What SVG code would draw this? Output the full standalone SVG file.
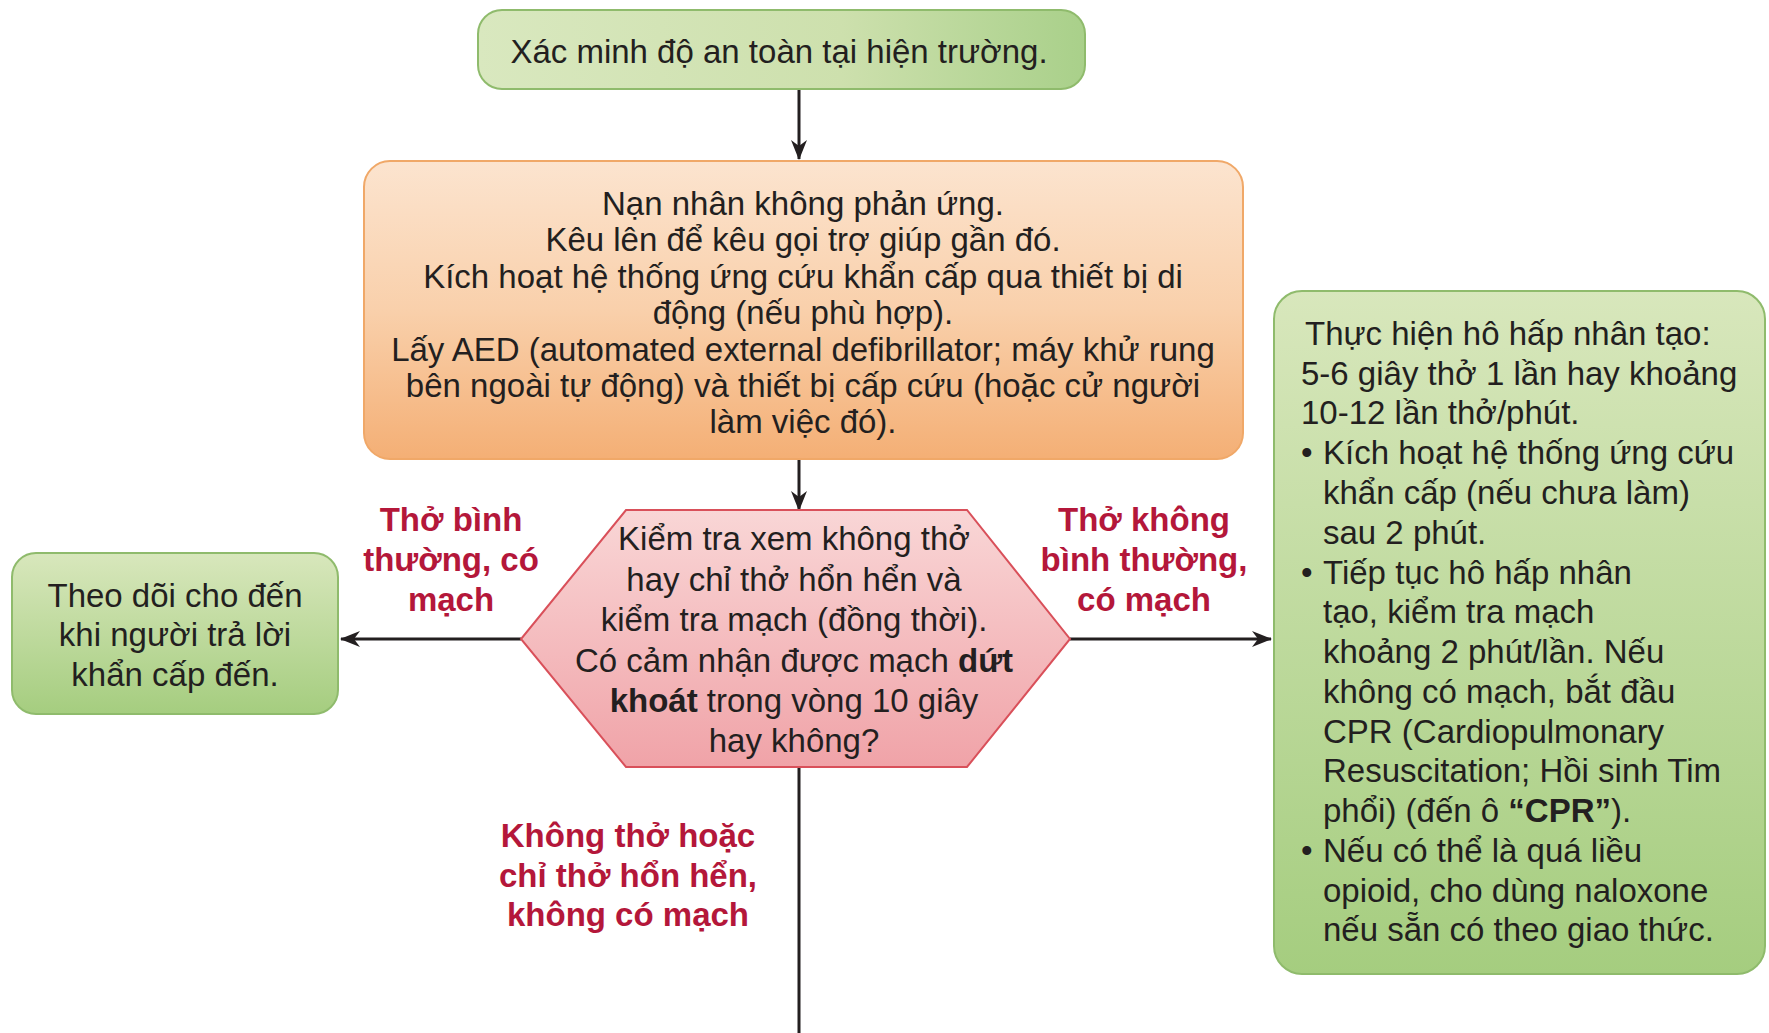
<svg xmlns="http://www.w3.org/2000/svg" width="1769" height="1033" viewBox="0 0 1769 1033">
<style>
.t{font-family:"Liberation Sans",Arial,sans-serif;font-size:33px;fill:#231f20}
.c{text-anchor:middle}
.r{font-family:"Liberation Sans",Arial,sans-serif;font-size:33px;font-weight:bold;fill:#b4173a;text-anchor:middle}
.b{font-weight:bold}
.ln{stroke:#231f20;stroke-width:3;fill:none}
</style>
<defs>
<linearGradient id="gTop" x1="0" y1="0" x2="1" y2="0"><stop offset="0" stop-color="#d9e8bf"/><stop offset="0.6" stop-color="#cde0ad"/><stop offset="1" stop-color="#a9d08a"/></linearGradient>
<linearGradient id="gGreen" x1="0" y1="0" x2="0" y2="1"><stop offset="0" stop-color="#d8e7bc"/><stop offset="1" stop-color="#a5cd7f"/></linearGradient>
<linearGradient id="gOrange" x1="0" y1="0" x2="0" y2="1"><stop offset="0" stop-color="#fce4cf"/><stop offset="0.5" stop-color="#f9d0ab"/><stop offset="1" stop-color="#f4af75"/></linearGradient>
<linearGradient id="gPink" x1="0" y1="0" x2="0" y2="1"><stop offset="0" stop-color="#f9d6d6"/><stop offset="1" stop-color="#f0a3a8"/></linearGradient>
<marker id="arr" viewBox="0 0 20 16" refX="19" refY="8" markerWidth="22" markerHeight="16" orient="auto" markerUnits="userSpaceOnUse"><path d="M0,0 L20,8 L0,16 L6,8 Z" fill="#231f20"/></marker>
</defs>

<g id="connectors">
<line class="ln" x1="799" y1="89" x2="799" y2="159" marker-end="url(#arr)"/>
<line class="ln" x1="799" y1="459" x2="799" y2="510" marker-end="url(#arr)"/>
<line class="ln" x1="521" y1="639" x2="341" y2="639" marker-end="url(#arr)"/>
<line class="ln" x1="1070" y1="639" x2="1271" y2="639" marker-end="url(#arr)"/>
<line class="ln" x1="799" y1="767" x2="799" y2="1033"/>
</g>

<g id="node-safety">
<rect x="478" y="10" width="607" height="79" rx="24" fill="url(#gTop)" stroke="#8fbb6c" stroke-width="2"/>
<text class="t c" x="779" y="63">Xác minh độ an toàn tại hiện trường.</text>
</g>

<g id="node-unresponsive">
<rect x="364" y="161" width="879" height="298" rx="26" fill="url(#gOrange)" stroke="#f0a868" stroke-width="2"/>
<text class="t c" x="803" y="215">Nạn nhân không phản ứng.</text>
<text class="t c" x="803" y="251">Kêu lên để kêu gọi trợ giúp gần đó.</text>
<text class="t c" x="803" y="288">Kích hoạt hệ thống ứng cứu khẩn cấp qua thiết bị di</text>
<text class="t c" x="803" y="324">động (nếu phù hợp).</text>
<text class="t c" x="803" y="361">Lấy AED (automated external defibrillator; máy khử rung</text>
<text class="t c" x="803" y="397">bên ngoài tự động) và thiết bị cấp cứu (hoặc cử người</text>
<text class="t c" x="803" y="433">làm việc đó).</text>
</g>

<g id="node-check">
<polygon points="626,510 967,510 1070,639 967,767 626,767 521,639" fill="url(#gPink)" stroke="#d9505a" stroke-width="2"/>
<text class="t c" x="794" y="550">Kiểm tra xem không thở</text>
<text class="t c" x="794" y="591">hay chỉ thở hổn hển và</text>
<text class="t c" x="794" y="631">kiểm tra mạch (đồng thời).</text>
<text class="t c" x="794" y="672">Có cảm nhận được mạch <tspan class="b">dứt</tspan></text>
<text class="t c" x="794" y="712"><tspan class="b">khoát</tspan> trong vòng 10 giây</text>
<text class="t c" x="794" y="752">hay không?</text>
</g>

<g id="node-monitor">
<rect x="12" y="553" width="326" height="161" rx="24" fill="url(#gGreen)" stroke="#8fbb6c" stroke-width="2"/>
<text class="t c" x="175" y="607">Theo dõi cho đến</text>
<text class="t c" x="175" y="646">khi người trả lời</text>
<text class="t c" x="175" y="686">khẩn cấp đến.</text>
</g>

<g id="node-rescue-breathing">
<rect x="1274" y="291" width="491" height="683" rx="28" fill="url(#gGreen)" stroke="#8fbb6c" stroke-width="2"/>
<text class="t" x="1305" y="345">Thực hiện hô hấp nhân tạo:</text>
<text class="t" x="1301" y="385">5-6 giây thở 1 lần hay khoảng</text>
<text class="t" x="1301" y="424">10-12 lần thở/phút.</text>
<text class="t" x="1301" y="464">•</text>
<text class="t" x="1323" y="464">Kích hoạt hệ thống ứng cứu</text>
<text class="t" x="1323" y="504">khẩn cấp (nếu chưa làm)</text>
<text class="t" x="1323" y="544">sau 2 phút.</text>
<text class="t" x="1301" y="584">•</text>
<text class="t" x="1323" y="584">Tiếp tục hô hấp nhân</text>
<text class="t" x="1323" y="623">tạo, kiểm tra mạch</text>
<text class="t" x="1323" y="663">khoảng 2 phút/lần. Nếu</text>
<text class="t" x="1323" y="703">không có mạch, bắt đầu</text>
<text class="t" x="1323" y="743">CPR (Cardiopulmonary</text>
<text class="t" x="1323" y="782">Resuscitation; Hồi sinh Tim</text>
<text class="t" x="1323" y="822">phổi) (đến ô <tspan class="b">“CPR”</tspan>).</text>
<text class="t" x="1301" y="862">•</text>
<text class="t" x="1323" y="862">Nếu có thể là quá liều</text>
<text class="t" x="1323" y="902">opioid, cho dùng naloxone</text>
<text class="t" x="1323" y="941">nếu sẵn có theo giao thức.</text>
</g>

<g id="labels">
<text class="r" x="451" y="531">Thở bình</text>
<text class="r" x="451" y="571">thường, có</text>
<text class="r" x="451" y="611">mạch</text>
<text class="r" x="1144" y="531">Thở không</text>
<text class="r" x="1144" y="571">bình thường,</text>
<text class="r" x="1144" y="611">có mạch</text>
<text class="r" x="628" y="847">Không thở hoặc</text>
<text class="r" x="628" y="887">chỉ thở hổn hển,</text>
<text class="r" x="628" y="926">không có mạch</text>
</g>
</svg>
